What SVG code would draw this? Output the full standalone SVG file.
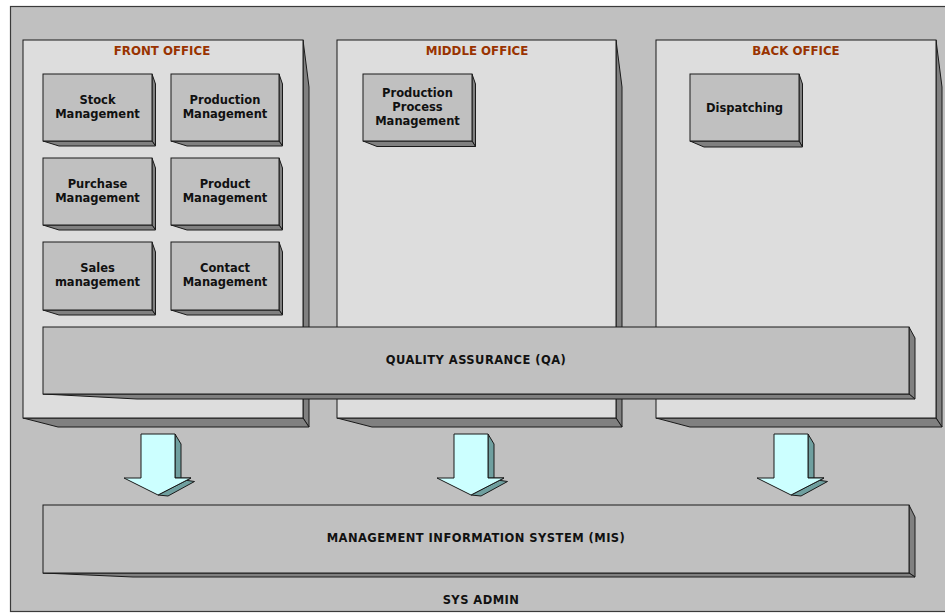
<svg xmlns="http://www.w3.org/2000/svg" xmlns:xlink="http://www.w3.org/1999/xlink" width="945" height="614" viewBox="0 0 945 614">
<style>
.frame{fill:#c0c0c0;stroke:#3a3a3a;stroke-width:1.2}
.pfront{fill:#dddddd;stroke:#1a1a1a;stroke-width:1}
.bfront{fill:#c0c0c0;stroke:#1a1a1a;stroke-width:1}
.side{fill:#808080;stroke:#1a1a1a;stroke-width:1;stroke-linejoin:round}
.title{font-family:"DejaVu Sans","Liberation Sans",sans-serif;font-weight:bold;font-size:11.8px;fill:#993300;text-anchor:middle}
.lbl{font-family:"DejaVu Sans","Liberation Sans",sans-serif;font-weight:bold;font-size:11.5px;fill:#111;text-anchor:middle}
.cap{font-family:"DejaVu Sans","Liberation Sans",sans-serif;font-weight:bold;font-size:11.5px;letter-spacing:0.45px;fill:#111;text-anchor:middle}
.afront{fill:#ccffff;stroke:#1a1a1a;stroke-width:1;stroke-linejoin:round}
.aside{fill:#6f9f9f;stroke:#1a1a1a;stroke-width:1;stroke-linejoin:round}
</style>
<defs>
<g id="arrowShape">
<polygon class="aside" points="17,434 23,444 23,479.5 36.5,481.5 10,496 0,495 33,478 17,478"/>
<polygon class="afront" points="-17,434 17,434 17,478 33,478 0,495 -34,478 -17,478"/>
</g>
</defs>

<g id="sysadmin">
<rect class="frame" x="10.5" y="6.5" width="945" height="605"/>
<text class="cap" x="481" y="604">SYS ADMIN</text>
</g>

<g id="front-office">
<polygon class="side" points="303,40 309,87 309,427 303,418"/>
<polygon class="side" points="23,418 58,427 309,427 303,418"/>
<rect class="pfront" x="23" y="40" width="280" height="378"/>
<text class="title" x="162" y="55">FRONT OFFICE</text>
</g>

<g id="middle-office">
<polygon class="side" points="616,40 622,87 622,427 616,418"/>
<polygon class="side" points="337,418 372,427 622,427 616,418"/>
<rect class="pfront" x="337" y="40" width="279" height="378"/>
<text class="title" x="477" y="55">MIDDLE OFFICE</text>
</g>

<g id="back-office">
<polygon class="side" points="936,40 942,87 942,427 936,418"/>
<polygon class="side" points="656,418 690,427 942,427 936,418"/>
<rect class="pfront" x="656" y="40" width="280" height="378"/>
<text class="title" x="796" y="55">BACK OFFICE</text>
</g>

<g id="stock-management">
<polygon class="side" points="152,74 155.5,84 155.5,146 152,141"/>
<polygon class="side" points="43,141 59,146 155.5,146 152,141"/>
<rect class="bfront" x="43" y="74" width="109" height="67"/>
<text class="lbl" x="97.5" y="104">Stock</text>
<text class="lbl" x="97.5" y="118">Management</text>
</g>

<g id="production-management">
<polygon class="side" points="279,74 282.5,84 282.5,146 279,141"/>
<polygon class="side" points="171,141 187,146 282.5,146 279,141"/>
<rect class="bfront" x="171" y="74" width="108" height="67"/>
<text class="lbl" x="225" y="104">Production</text>
<text class="lbl" x="225" y="118">Management</text>
</g>

<g id="purchase-management">
<polygon class="side" points="152,158 155.5,168 155.5,230 152,225"/>
<polygon class="side" points="43,225 59,230 155.5,230 152,225"/>
<rect class="bfront" x="43" y="158" width="109" height="67"/>
<text class="lbl" x="97.5" y="188">Purchase</text>
<text class="lbl" x="97.5" y="202">Management</text>
</g>

<g id="product-management">
<polygon class="side" points="279,158 282.5,168 282.5,230 279,225"/>
<polygon class="side" points="171,225 187,230 282.5,230 279,225"/>
<rect class="bfront" x="171" y="158" width="108" height="67"/>
<text class="lbl" x="225" y="188">Product</text>
<text class="lbl" x="225" y="202">Management</text>
</g>

<g id="sales-management">
<polygon class="side" points="152,242 155.5,252 155.5,315 152,310"/>
<polygon class="side" points="43,310 59,315 155.5,315 152,310"/>
<rect class="bfront" x="43" y="242" width="109" height="68"/>
<text class="lbl" x="97.5" y="272">Sales</text>
<text class="lbl" x="97.5" y="286">management</text>
</g>

<g id="contact-management">
<polygon class="side" points="279,242 282.5,252 282.5,315 279,310"/>
<polygon class="side" points="171,310 187,315 282.5,315 279,310"/>
<rect class="bfront" x="171" y="242" width="108" height="68"/>
<text class="lbl" x="225" y="272">Contact</text>
<text class="lbl" x="225" y="286">Management</text>
</g>

<g id="production-process-management">
<polygon class="side" points="472,74 475.5,84 475.5,146.5 472,141"/>
<polygon class="side" points="363,141 377,146.5 475.5,146.5 472,141"/>
<rect class="bfront" x="363" y="74" width="109" height="67"/>
<text class="lbl" x="417.5" y="97">Production</text>
<text class="lbl" x="417.5" y="111">Process</text>
<text class="lbl" x="417.5" y="125">Management</text>
</g>

<g id="dispatching">
<polygon class="side" points="799,74 802.5,84 802.5,147 799,141"/>
<polygon class="side" points="690,141 704,147 802.5,147 799,141"/>
<rect class="bfront" x="690" y="74" width="109" height="67"/>
<text class="lbl" x="744.5" y="111.5">Dispatching</text>
</g>

<g id="quality-assurance">
<polygon class="side" points="909,327 915,338 915,399 909,394"/>
<polygon class="side" points="43,394 137,399 915,399 909,394"/>
<rect class="bfront" x="43" y="327" width="866" height="67"/>
<text class="cap" x="476" y="364">QUALITY ASSURANCE (QA)</text>
</g>

<g id="mis">
<polygon class="side" points="909,505 915,517 915,577 909,573"/>
<polygon class="side" points="43,573 133,577 915,577 909,573"/>
<rect class="bfront" x="43" y="505" width="866" height="68"/>
<text class="cap" x="476" y="542">MANAGEMENT INFORMATION SYSTEM (MIS)</text>
</g>

<g id="connectors">
<use xlink:href="#arrowShape" transform="translate(158,0)"/>
<use xlink:href="#arrowShape" transform="translate(471,0)"/>
<use xlink:href="#arrowShape" transform="translate(791,0)"/>
</g>
</svg>
